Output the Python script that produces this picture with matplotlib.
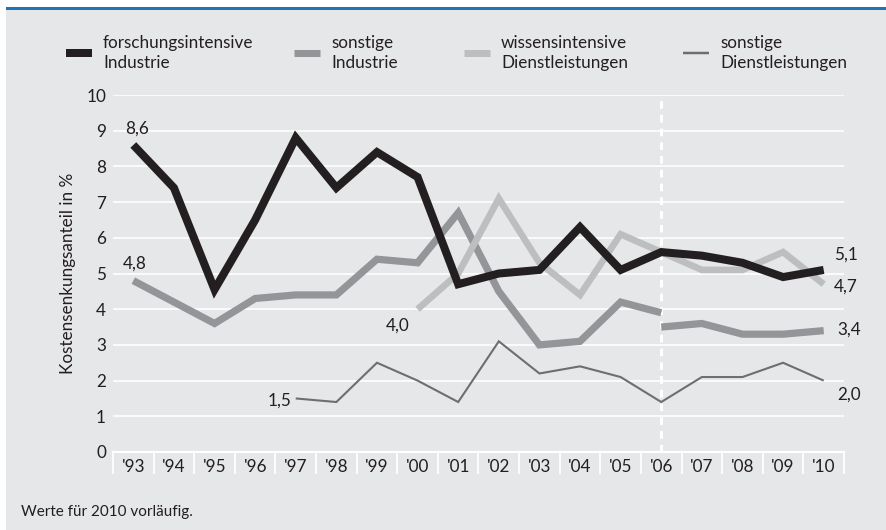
import matplotlib.pyplot as plt
from matplotlib.lines import Line2D
from matplotlib.patches import Rectangle

# Kostensenkungsanteil in % nach Sektoren, 1993-2010
years = ["'93", "'94", "'95", "'96", "'97", "'98", "'99", "'00", "'01",
         "'02", "'03", "'04", "'05", "'06", "'07", "'08", "'09", "'10"]
forsch_ind = [8.6, 7.4, 4.55, 6.5, 8.8, 7.4, 8.4, 7.7, 4.7,
              5.0, 5.1, 6.3, 5.1, 5.6, 5.5, 5.3, 4.9, 5.1]
# sonstige Industrie: Bruch in der Reihe 2006
sonst_ind_alt = [4.8, 4.2, 3.6, 4.3, 4.4, 4.4, 5.4, 5.3, 6.7,
                 4.5, 3.0, 3.1, 4.2, 3.9]
sonst_ind_neu = [3.5, 3.6, 3.3, 3.3, 3.4]
# ab 2000
wiss_dl = [4.0, 5.0, 7.1, 5.3, 4.4, 6.1, 5.6, 5.1, 5.1, 5.6, 4.7]
# ab 1997
sonst_dl = [1.5, 1.4, 2.5, 2.0, 1.4, 3.1, 2.2, 2.4, 2.1, 1.4,
            2.1, 2.1, 2.5, 2.0]

labels = ['forschungsintensive\nIndustrie', 'sonstige\nIndustrie',
          'wissensintensive\nDienstleistungen', 'sonstige\nDienstleistungen']
colors = ['#231f20', '#939598', '#bcbec0', '#6d6e71']
widths = [5.8, 5.2, 4.8, 1.5]

plt.rcParams['font.family'] = ['Lato', 'DejaVu Sans']
fs = 12.3
txt_color = '#231f20'

fig = plt.figure(figsize=(8.86, 5.30), dpi=100, facecolor='white')
W, H = 886, 530
# grey panel and blue rule on top
fig.add_artist(Rectangle((6 / W, 0), 1, 1 - 10 / H, transform=fig.transFigure,
                         facecolor='#e6e7e8', edgecolor='none', zorder=0))
fig.add_artist(Rectangle((6 / W, 1 - 10 / H), 1, 3 / H, transform=fig.transFigure,
                         facecolor='#1f73b7', edgecolor='none', zorder=0))

ax = fig.add_axes([113 / W, 1 - 452 / H, (844 - 113) / W, (452 - 95) / H])
ax.set_facecolor('none')

x_all = list(range(len(years)))
x_alt = x_all[:len(sonst_ind_alt)]
x_neu = x_all[len(sonst_ind_alt) - 1:]
x_wiss = x_all[len(years) - len(wiss_dl):]
x_sdl = x_all[len(years) - len(sonst_dl):]

kw = dict(solid_joinstyle='miter', solid_capstyle='butt')
ax.plot(x_sdl, sonst_dl, color=colors[3], lw=widths[3], zorder=2, **kw)
ax.plot(x_alt, sonst_ind_alt, color=colors[1], lw=widths[1], zorder=3, **kw)
ax.plot(x_neu, sonst_ind_neu, color=colors[1], lw=widths[1], zorder=3, **kw)
ax.plot(x_wiss, wiss_dl, color=colors[2], lw=widths[2], zorder=4, **kw)
ax.plot(x_all, forsch_ind, color=colors[0], lw=widths[0], zorder=5, **kw)

# Strukturbruch 2006
ax.axvline(x_neu[0], ymin=0, ymax=1, color='white', lw=2.2,
           linestyle=(0, (2.5, 2)), zorder=1)

ax.set_xlim(-0.5, len(years) - 0.5)
ax.set_ylim(0, 10)
ax.set_yticks(range(0, 11))
ax.set_xticks(x_all)
ax.set_xticklabels(years)
ax.set_xticks([i - 0.5 for i in range(len(years) + 1)], minor=True)
ax.tick_params(axis='x', which='major', length=0, pad=5, labelsize=fs,
               labelcolor=txt_color)
ax.tick_params(axis='x', which='minor', length=16, width=1.3, color='white',
               direction='out')
ax.tick_params(axis='y', length=0, pad=5, labelsize=fs, labelcolor=txt_color)
ax.grid(axis='y', color='white', lw=1.2, zorder=0)
ax.set_axisbelow(True)
for s in ['top', 'right', 'left']:
    ax.spines[s].set_visible(False)
ax.spines['bottom'].set_color('white')
ax.spines['bottom'].set_linewidth(1.5)
ax.set_ylabel('Kostensenkungsanteil in %', fontsize=fs, color=txt_color,
              labelpad=7)

ann = dict(textcoords='offset points', fontsize=fs, color=txt_color)
ax.annotate('8,6', (x_all[0], forsch_ind[0]), xytext=(3, 12), ha='center', va='center', **ann)
ax.annotate('4,8', (x_alt[0], sonst_ind_alt[0]), xytext=(1, 12), ha='center', va='center', **ann)
ax.annotate('4,0', (x_wiss[0], wiss_dl[0]), xytext=(-14, -11.5), ha='center', va='center', **ann)
ax.annotate('1,5', (x_sdl[0], sonst_dl[0]), xytext=(-3, -1.5), ha='right', va='center', **ann)
ax.annotate('5,1', (x_all[-1], forsch_ind[-1]), xytext=(16, 11), ha='center', va='center', **ann)
ax.annotate('4,7', (x_wiss[-1], wiss_dl[-1]), xytext=(16, -2), ha='center', va='center', **ann)
ax.annotate('3,4', (x_neu[-1], sonst_ind_neu[-1]), xytext=(18, 1), ha='center', va='center', **ann)
ax.annotate('2,0', (x_sdl[-1], sonst_dl[-1]), xytext=(18, -10), ha='center', va='center', **ann)

# legend, placed by hand
leg_x = [66, 294, 464, 683]
leg_w = [8, 7, 7, 2.5]
for i in range(4):
    y = 1 - 53 / H
    fig.add_artist(Line2D([leg_x[i] / W, (leg_x[i] + 26) / W], [y, y],
                          transform=fig.transFigure, color=colors[i],
                          lw=leg_w[i] / 1.389, solid_capstyle='butt'))
    fig.text((leg_x[i] + 37) / W, y, labels[i], ha='left', va='center',
             fontsize=fs, color=txt_color, linespacing=1.25)

fig.text(21 / W, 1 - 512 / H, 'Werte für 2010 vorläufig.', ha='left',
         va='center', fontsize=11, color=txt_color)

fig.savefig('out.png', dpi=100, facecolor=fig.get_facecolor())
